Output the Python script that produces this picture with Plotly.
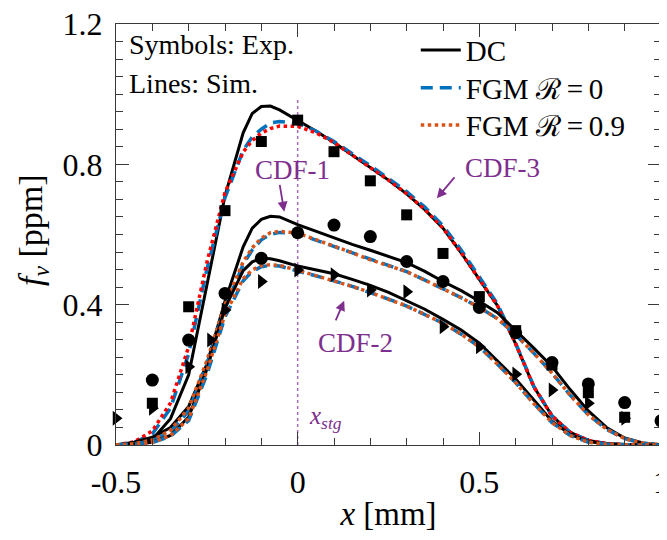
import plotly.graph_objects as go

# ---------------- data ----------------
x_sim = [-0.5, -0.45, -0.4, -0.35, -0.3, -0.25, -0.2, -0.15, -0.125, -0.1, -0.075, -0.05,
         0.0, 0.05, 0.1, 0.15, 0.2, 0.25, 0.3, 0.35, 0.4, 0.45, 0.5, 0.55, 0.6, 0.65,
         0.7, 0.75, 0.8, 0.85, 0.9, 0.95, 1.0]

cdf3_dc = [0.0, 0.004, 0.016, 0.075, 0.2, 0.46, 0.71, 0.89, 0.945, 0.965, 0.966, 0.955,
           0.926, 0.895, 0.862, 0.827, 0.791, 0.755, 0.716, 0.671, 0.618, 0.548, 0.472, 0.397,
           0.288, 0.166, 0.083, 0.036, 0.013, 0.004, 0.001, 0.0, 0.0]
cdf3_fgm0 = [0.0, 0.007, 0.032, 0.105, 0.26, 0.5, 0.705, 0.84, 0.878, 0.9, 0.918, 0.922,
             0.917, 0.895, 0.865, 0.831, 0.796, 0.76, 0.722, 0.678, 0.625, 0.556, 0.48, 0.402,
             0.29, 0.167, 0.083, 0.036, 0.013, 0.004, 0.001, 0.0, 0.0]
cdf3_fgm09 = [0.0, 0.009, 0.04, 0.12, 0.28, 0.52, 0.72, 0.835, 0.868, 0.889, 0.902, 0.909,
              0.908, 0.89, 0.862, 0.827, 0.791, 0.755, 0.716, 0.671, 0.618, 0.548, 0.472, 0.397,
              0.288, 0.166, 0.083, 0.036, 0.013, 0.004, 0.001, 0.0, 0.0]

cdf1_dc = [0.0, 0.008, 0.022, 0.05, 0.11, 0.23, 0.41, 0.565, 0.618, 0.643, 0.652, 0.65,
           0.628, 0.609, 0.59, 0.572, 0.555, 0.538, 0.52, 0.495, 0.466, 0.44, 0.41, 0.377,
           0.327, 0.276, 0.224, 0.158, 0.097, 0.05, 0.02, 0.006, 0.001]
cdf1_fgm0 = [0.0, 0.003, 0.012, 0.038, 0.097, 0.23, 0.39, 0.515, 0.556, 0.585, 0.6, 0.606,
             0.602, 0.584, 0.565, 0.546, 0.528, 0.511, 0.494, 0.47, 0.445, 0.42, 0.392, 0.36,
             0.315, 0.262, 0.205, 0.142, 0.086, 0.045, 0.018, 0.005, 0.001]
cdf1_fgm09 = [0.0, 0.004, 0.014, 0.042, 0.105, 0.24, 0.4, 0.522, 0.562, 0.59, 0.605, 0.609,
              0.604, 0.586, 0.567, 0.548, 0.528, 0.511, 0.494, 0.47, 0.445, 0.42, 0.392, 0.36,
              0.315, 0.262, 0.205, 0.142, 0.086, 0.045, 0.018, 0.005, 0.001]

cdf2_dc = [0.0, 0.002, 0.008, 0.027, 0.08, 0.215, 0.39, 0.497, 0.522, 0.532, 0.531, 0.525,
           0.51, 0.5, 0.488, 0.472, 0.455, 0.435, 0.412, 0.387, 0.358, 0.328, 0.29, 0.238,
           0.188, 0.128, 0.068, 0.03, 0.01, 0.003, 0.001, 0.0, 0.0]
cdf2_fgm0 = [0.0, 0.002, 0.007, 0.025, 0.07, 0.2, 0.365, 0.468, 0.495, 0.508, 0.512, 0.51,
             0.496, 0.483, 0.468, 0.452, 0.435, 0.416, 0.396, 0.372, 0.347, 0.316, 0.28, 0.23,
             0.178, 0.118, 0.064, 0.027, 0.008, 0.002, 0.0, 0.0, 0.0]
cdf2_fgm09 = [0.0, 0.002, 0.008, 0.027, 0.075, 0.21, 0.372, 0.474, 0.499, 0.511, 0.514, 0.512,
              0.498, 0.483, 0.468, 0.452, 0.435, 0.416, 0.396, 0.372, 0.347, 0.316, 0.28, 0.23,
              0.178, 0.118, 0.064, 0.027, 0.008, 0.002, 0.0, 0.0, 0.0]

# experiments
x_exp_cdf3 = [-0.4, -0.3, -0.2, -0.1, 0.0, 0.1, 0.2, 0.3, 0.4, 0.5, 0.6, 0.7, 0.8, 0.9]
exp_cdf3 = [0.119, 0.394, 0.668, 0.865, 0.926, 0.836, 0.753, 0.656, 0.546, 0.423, 0.326, 0.228, 0.149, 0.079]
x_exp_cdf1 = [-0.4, -0.3, -0.2, -0.1, 0.0, 0.1, 0.2, 0.3, 0.4, 0.5, 0.6, 0.7, 0.8, 0.9, 1.0]
exp_cdf1 = [0.185, 0.299, 0.432, 0.532, 0.605, 0.627, 0.594, 0.523, 0.466, 0.392, 0.32, 0.235, 0.174, 0.121, 0.069]
x_exp_cdf2 = [-0.5, -0.4, -0.3, -0.24, -0.2, -0.1, 0.0, 0.1, 0.2, 0.3, 0.4, 0.5, 0.6, 0.7, 0.8, 0.9]
exp_cdf2 = [0.076, 0.105, 0.223, 0.299, 0.385, 0.466, 0.499, 0.485, 0.442, 0.437, 0.337, 0.28, 0.202, 0.157, 0.119, 0.076]

x_ticks = [-0.5, 0, 0.5, 1]
x_ticktext = ["-0.5", "0", "0.5", "1"]
y_ticks = [0, 0.4, 0.8, 1.2]
y_ticktext = ["0", "0.4", "0.8", "1.2"]

x_stg = 0.0
x_stg_top = 0.99

# ---------------- styles ----------------
FONT = "'Liberation Serif', serif"
BLACK = "#000000"
BLUE = "#0072BD"
ORANGE = "#D95319"
RED = "#FF0000"
PURPLE = "#7E2F8E"
AXC = "#3a3a3a"

fig = go.Figure()

def add_line(y, color, dash, width, name=None, legend=None):
    fig.add_trace(go.Scatter(
        x=x_sim, y=y, mode="lines", name=name, showlegend=legend is not None,
        legend=legend if legend else "legend",
        line=dict(color=color, width=width, dash=dash), hoverinfo="skip"))

DASH_B = "12px,7px"
DOT = "3.5px,3.5px"

# CDF-3
add_line(cdf3_dc, BLACK, "solid", 3)
add_line(cdf3_fgm0, BLUE, DASH_B, 3.5)
add_line(cdf3_fgm09, RED, DOT, 3.5)
# CDF-1 (carries legend entries)
add_line(cdf1_dc, BLACK, "solid", 3, "DC", "legend")
add_line(cdf1_fgm0, BLUE, DASH_B, 3.5, "FGM \u211B\u2009=\u20090", "legend2")
add_line(cdf1_fgm09, ORANGE, DOT, 3.5, "FGM \u211B\u2009=\u20090.9", "legend3")
# CDF-2
add_line(cdf2_dc, BLACK, "solid", 3)
add_line(cdf2_fgm0, BLUE, DASH_B, 3.5)
add_line(cdf2_fgm09, ORANGE, DOT, 3.5)

# experimental symbols
fig.add_trace(go.Scatter(x=x_exp_cdf3, y=exp_cdf3, mode="markers", showlegend=False,
                         cliponaxis=False,
                         marker=dict(symbol="square", size=11, color=BLACK)))
fig.add_trace(go.Scatter(x=x_exp_cdf1, y=exp_cdf1, mode="markers", showlegend=False,
                         cliponaxis=False,
                         marker=dict(symbol="circle", size=13, color=BLACK)))
fig.add_trace(go.Scatter(x=x_exp_cdf2, y=exp_cdf2, mode="markers", showlegend=False,
                         cliponaxis=False,
                         marker=dict(symbol="triangle-right", size=13, color=BLACK)))

# stagnation plane line
fig.add_shape(type="line", x0=x_stg, x1=x_stg, y0=0, y1=x_stg_top, xref="x", yref="y",
              line=dict(color="rgba(150,80,170,0.85)", width=1.5, dash="dot"), layer="below")

ann = []
ann.append(dict(x=0.025, y=0.077, xref="x", yref="y", xanchor="left", yanchor="middle",
                text="<i>x</i><sub><i>stg</i></sub>", showarrow=False,
                font=dict(family=FONT, size=25, color=PURPLE)))
ann.append(dict(x=0.02, y=0.951, xref="paper", yref="paper", xanchor="left", yanchor="middle",
                text="Symbols: Exp.", showarrow=False, font=dict(family=FONT, size=28, color=BLACK)))
ann.append(dict(x=0.02, y=0.859, xref="paper", yref="paper", xanchor="left", yanchor="middle",
                text="Lines: Sim.", showarrow=False, font=dict(family=FONT, size=28, color=BLACK)))
# y-axis title
ann.append(dict(x=-0.152, y=0.511, xref="paper", yref="paper", xanchor="center", yanchor="middle",
                text="<i>f</i><sub><i>v</i></sub> [ppm]", textangle=-90, showarrow=False,
                font=dict(family=FONT, size=34, color=BLACK)))

labels = [("CDF-1", -0.015, 0.785, -0.05, 0.746, -0.037, 0.665),
          ("CDF-3", 0.565, 0.79, 0.435, 0.767, 0.383, 0.703),
          ("CDF-2", 0.158, 0.291, 0.103, 0.351, 0.128, 0.411)]
for t, tx, ty, ax_, ay_, hx, hy in labels:
    ann.append(dict(x=tx, y=ty, xref="x", yref="y", text=t, showarrow=False,
                    xanchor="center", yanchor="middle",
                    font=dict(family=FONT, size=27, color=PURPLE)))
    ann.append(dict(x=hx, y=hy, ax=ax_, ay=ay_, xref="x", yref="y", axref="x", ayref="y",
                    text="", showarrow=True, arrowhead=2, arrowsize=1.1, arrowwidth=1.8,
                    arrowcolor=PURPLE, standoff=0, startstandoff=0))

LEG = dict(x=0.55, xanchor="left", yanchor="middle",
           font=dict(family=FONT, size=29, color=BLACK),
           bgcolor="rgba(0,0,0,0)", itemwidth=40)

# page body has an 8px margin: size and margins chosen so the axes land where the reference has them
fig.update_layout(
    width=659, height=524,
    margin=dict(l=108, r=6, t=16, b=87, autoexpand=False),
    paper_bgcolor="white", plot_bgcolor="white",
    font=dict(family=FONT, color=BLACK),
    annotations=ann,
    legend=dict(LEG, y=0.938),
    legend2=dict(LEG, y=0.848),
    legend3=dict(LEG, y=0.760),
    xaxis=dict(range=[-0.5, 1], tickmode="array", tickvals=x_ticks, ticktext=x_ticktext,
               ticks="inside", ticklen=13, tickwidth=1, tickcolor=AXC,
               minor=dict(dtick=0.1, tick0=-0.5, ticks="inside", ticklen=7, tickcolor=AXC, showgrid=False),
               showline=True, linecolor=AXC, linewidth=1.2, mirror="allticks",
               showgrid=False, zeroline=False, automargin=False, ticklabeloverflow="allow",
               ticklabelstandoff=8,
               tickfont=dict(family=FONT, size=32, color=BLACK),
               title=dict(text="<i>x</i> [mm]", font=dict(family=FONT, size=33, color=BLACK), standoff=14)),
    yaxis=dict(range=[0, 1.2], tickmode="array", tickvals=y_ticks, ticktext=y_ticktext,
               ticks="inside", ticklen=13, tickwidth=1, tickcolor=AXC,
               minor=dict(dtick=0.05, tick0=0, ticks="inside", ticklen=7, tickcolor=AXC, showgrid=False),
               showline=True, linecolor=AXC, linewidth=1.2, mirror="allticks",
               showgrid=False, zeroline=False, automargin=False, ticklabeloverflow="allow",
               ticklabelstandoff=6,
               tickfont=dict(family=FONT, size=32, color=BLACK)),
)

fig.write_html("out.html")
